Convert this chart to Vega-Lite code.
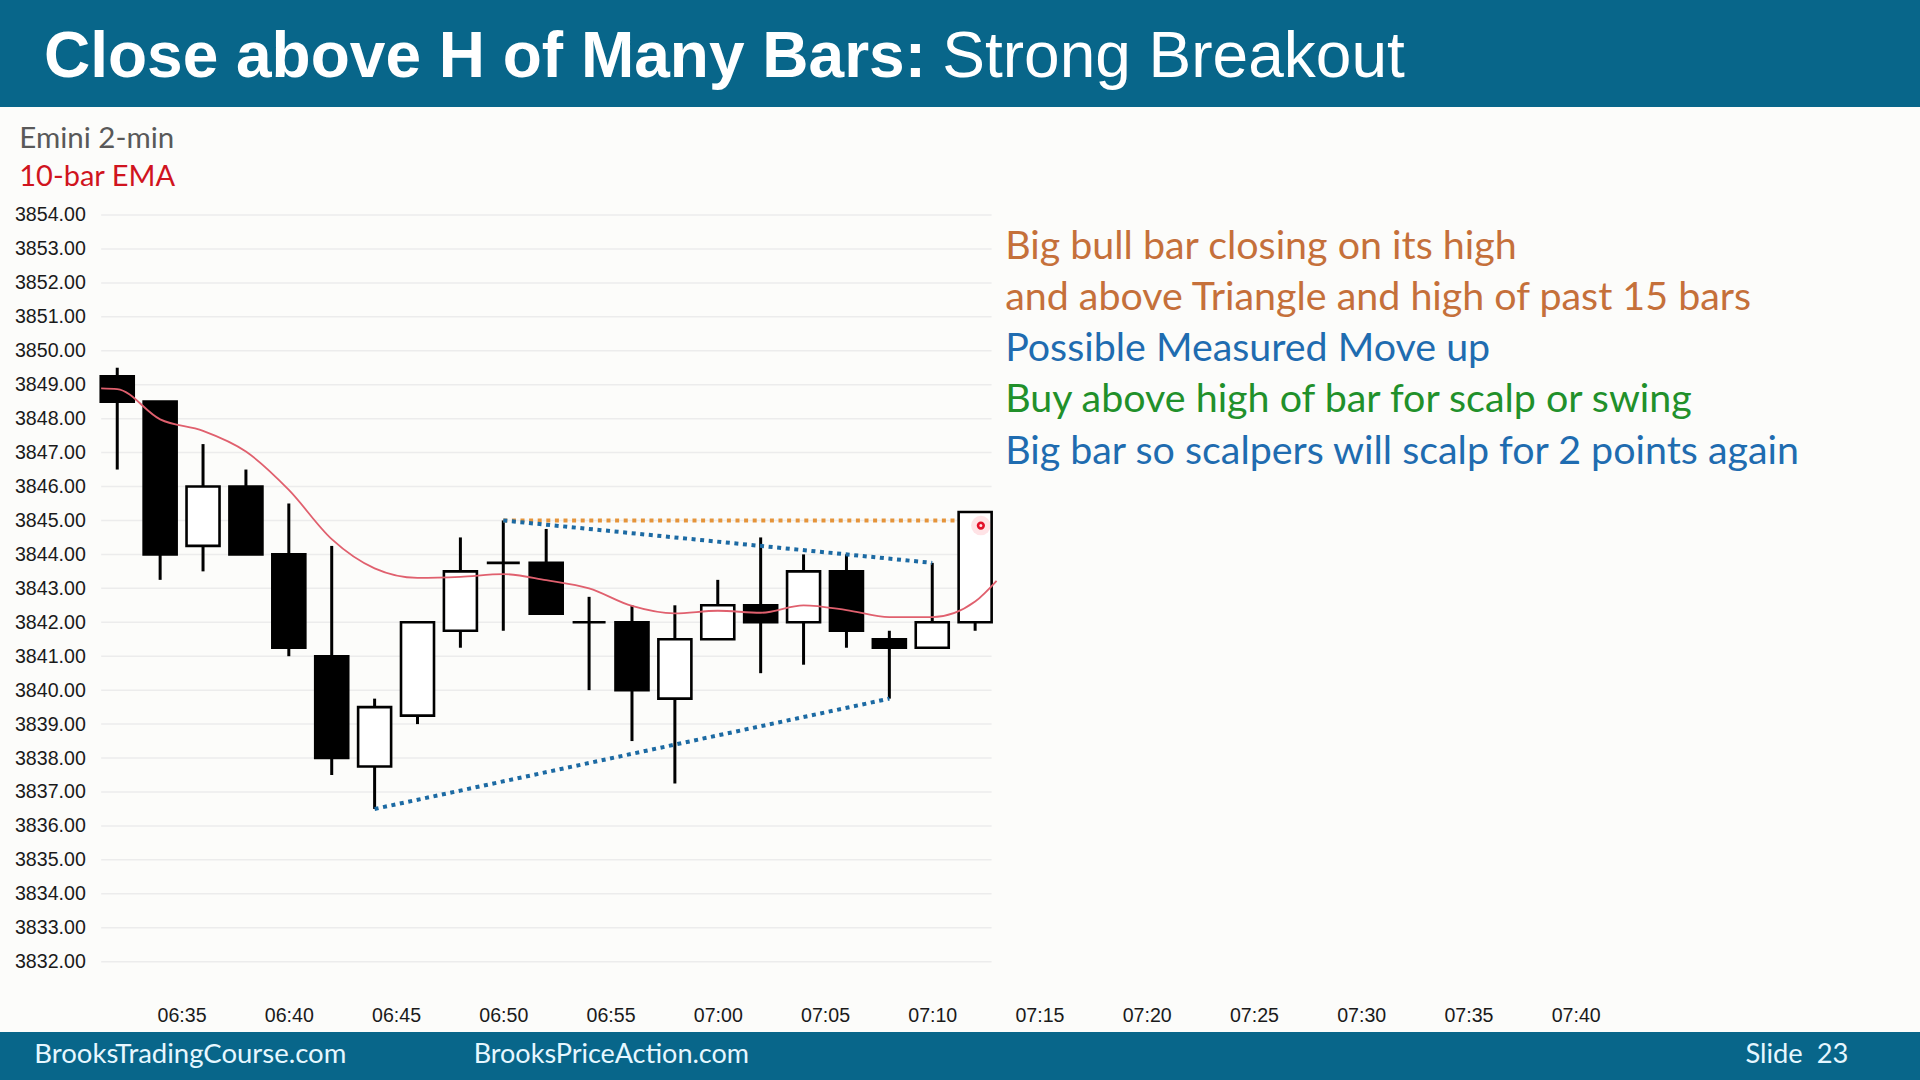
{
  "$schema": "https://vega.github.io/schema/vega-lite/v6.json",
  "width": 1920,
  "height": 925,
  "autosize": {"type": "none"},
  "padding": {"left": 0, "right": 0, "top": 107, "bottom": 48},
  "background": "#08668a",
  "view": {"fill": "#fcfcfa", "stroke": null},
  "config": {"font": "Lato"},
  "resolve": {"axis": {"x": "independent", "y": "independent"}},
  "datasets": {
    "candles": [
      {"t": "2023-01-03T06:32:00", "open": 3849.25, "high": 3849.5, "low": 3846.5, "close": 3848.5},
      {"t": "2023-01-03T06:34:00", "open": 3848.5, "high": 3848.5, "low": 3843.25, "close": 3844},
      {"t": "2023-01-03T06:36:00", "open": 3844.25, "high": 3847.25, "low": 3843.5, "close": 3846},
      {"t": "2023-01-03T06:38:00", "open": 3846, "high": 3846.5, "low": 3844, "close": 3844},
      {"t": "2023-01-03T06:40:00", "open": 3844, "high": 3845.5, "low": 3841, "close": 3841.25},
      {"t": "2023-01-03T06:42:00", "open": 3841, "high": 3844.25, "low": 3837.5, "close": 3838},
      {"t": "2023-01-03T06:44:00", "open": 3837.75, "high": 3839.75, "low": 3836.5, "close": 3839.5},
      {"t": "2023-01-03T06:46:00", "open": 3839.25, "high": 3842, "low": 3839, "close": 3842},
      {"t": "2023-01-03T06:48:00", "open": 3841.75, "high": 3844.5, "low": 3841.25, "close": 3843.5},
      {"t": "2023-01-03T06:50:00", "open": 3843.75, "high": 3845, "low": 3841.75, "close": 3843.75},
      {"t": "2023-01-03T06:52:00", "open": 3843.75, "high": 3844.75, "low": 3842.25, "close": 3842.25},
      {"t": "2023-01-03T06:54:00", "open": 3842, "high": 3842.75, "low": 3840, "close": 3842},
      {"t": "2023-01-03T06:56:00", "open": 3842, "high": 3842.5, "low": 3838.5, "close": 3840},
      {"t": "2023-01-03T06:58:00", "open": 3839.75, "high": 3842.5, "low": 3837.25, "close": 3841.5},
      {"t": "2023-01-03T07:00:00", "open": 3841.5, "high": 3843.25, "low": 3841.5, "close": 3842.5},
      {"t": "2023-01-03T07:02:00", "open": 3842.5, "high": 3844.5, "low": 3840.5, "close": 3842},
      {"t": "2023-01-03T07:04:00", "open": 3842, "high": 3844, "low": 3840.75, "close": 3843.5},
      {"t": "2023-01-03T07:06:00", "open": 3843.5, "high": 3844, "low": 3841.25, "close": 3841.75},
      {"t": "2023-01-03T07:08:00", "open": 3841.5, "high": 3841.75, "low": 3839.75, "close": 3841.25},
      {"t": "2023-01-03T07:10:00", "open": 3841.25, "high": 3843.75, "low": 3841.25, "close": 3842},
      {"t": "2023-01-03T07:12:00", "open": 3842, "high": 3845.25, "low": 3841.75, "close": 3845.25}
    ],
    "ema": [
      {"t": "2023-01-03T06:31:15", "ema": 3848.89},
      {"t": "2023-01-03T06:32:00", "ema": 3848.87},
      {"t": "2023-01-03T06:34:00", "ema": 3847.98},
      {"t": "2023-01-03T06:36:00", "ema": 3847.64},
      {"t": "2023-01-03T06:38:00", "ema": 3847.03},
      {"t": "2023-01-03T06:40:00", "ema": 3845.9},
      {"t": "2023-01-03T06:42:00", "ema": 3844.45},
      {"t": "2023-01-03T06:44:00", "ema": 3843.59},
      {"t": "2023-01-03T06:46:00", "ema": 3843.31},
      {"t": "2023-01-03T06:48:00", "ema": 3843.34},
      {"t": "2023-01-03T06:50:00", "ema": 3843.42},
      {"t": "2023-01-03T06:52:00", "ema": 3843.24},
      {"t": "2023-01-03T06:54:00", "ema": 3843.0},
      {"t": "2023-01-03T06:56:00", "ema": 3842.48},
      {"t": "2023-01-03T06:58:00", "ema": 3842.26},
      {"t": "2023-01-03T07:00:00", "ema": 3842.34},
      {"t": "2023-01-03T07:02:00", "ema": 3842.28},
      {"t": "2023-01-03T07:04:00", "ema": 3842.5},
      {"t": "2023-01-03T07:06:00", "ema": 3842.36},
      {"t": "2023-01-03T07:08:00", "ema": 3842.15},
      {"t": "2023-01-03T07:10:00", "ema": 3842.15},
      {"t": "2023-01-03T07:12:00", "ema": 3842.61},
      {"t": "2023-01-03T07:13:00", "ema": 3843.22}
    ],
    "levels": [
      {"level": 3832}, {"level": 3833}, {"level": 3834}, {"level": 3835}, {"level": 3836},
      {"level": 3837}, {"level": 3838}, {"level": 3839}, {"level": 3840}, {"level": 3841},
      {"level": 3842}, {"level": 3843}, {"level": 3844}, {"level": 3845}, {"level": 3846},
      {"level": 3847}, {"level": 3848}, {"level": 3849}, {"level": 3850}, {"level": 3851},
      {"level": 3852}, {"level": 3853}, {"level": 3854}
    ],
    "trendlines": [
      {"kind": "resistance", "t1": "2023-01-03T06:50:00", "p1": 3845, "t2": "2023-01-03T07:11:13", "p2": 3845},
      {"kind": "upper", "t1": "2023-01-03T06:50:00", "p1": 3845, "t2": "2023-01-03T07:10:00", "p2": 3843.75},
      {"kind": "lower", "t1": "2023-01-03T06:44:00", "p1": 3836.5, "t2": "2023-01-03T07:08:00", "p2": 3839.75}
    ],
    "pointer": [
      {"t": "2023-01-03T07:12:16", "p": 3844.85}
    ],
    "notes": [
      {"note": "Big bull bar closing on its high", "tone": "setup", "at": 3852.718},
      {"note": "and above Triangle and high of past 15 bars", "tone": "setup", "at": 3851.207},
      {"note": "Possible Measured Move up", "tone": "target", "at": 3849.695},
      {"note": "Buy above high of bar for scalp or swing", "tone": "trade", "at": 3848.184},
      {"note": "Big bar so scalpers will scalp for 2 points again", "tone": "scalp", "at": 3846.672}
    ]
  },
  "layer": [
    {
      "data": {"name": "levels"},
      "mark": {"type": "rule", "stroke": "#ececec", "strokeWidth": 1.5},
      "encoding": {
        "y": {"field": "level", "type": "quantitative", "scale": {"domain": [3829.928, 3857.182], "nice": false, "zero": false}, "axis": null},
        "x": {"datum": {"year": 2023, "month": 1, "date": 3, "hours": 6, "minutes": 31, "seconds": 15}, "type": "temporal", "scale": {"domain": [{"year": 2023, "month": 1, "date": 3, "hours": 6, "minutes": 26, "seconds": 46}, {"year": 2023, "month": 1, "date": 3, "hours": 7, "minutes": 55, "seconds": 49, "milliseconds": 300}], "nice": false}, "axis": null},
        "x2": {"datum": {"year": 2023, "month": 1, "date": 3, "hours": 7, "minutes": 12, "seconds": 46}}
      }
    },
    {
      "data": {"name": "candles"},
      "mark": {"type": "rule", "strokeWidth": 3, "color": "#000000"},
      "encoding": {
        "x": {"field": "t", "type": "temporal", "scale": {"domain": [{"year": 2023, "month": 1, "date": 3, "hours": 6, "minutes": 26, "seconds": 46}, {"year": 2023, "month": 1, "date": 3, "hours": 7, "minutes": 55, "seconds": 49, "milliseconds": 300}], "nice": false}, "axis": null},
        "y": {"field": "low", "type": "quantitative", "scale": {"domain": [3829.928, 3857.182], "nice": false, "zero": false}, "axis": null},
        "y2": {"field": "high"}
      }
    },
    {
      "data": {"name": "candles"},
      "mark": {"type": "bar", "size": 33, "stroke": "#000000", "strokeWidth": 2.6},
      "encoding": {
        "x": {
          "field": "t", "type": "temporal",
          "scale": {"domain": [{"year": 2023, "month": 1, "date": 3, "hours": 6, "minutes": 26, "seconds": 46}, {"year": 2023, "month": 1, "date": 3, "hours": 7, "minutes": 55, "seconds": 49, "milliseconds": 300}], "nice": false},
          "axis": {
            "orient": "bottom", "offset": -25.5, "title": null, "grid": false, "domain": false, "ticks": false,
            "labelPadding": 0, "labelBaseline": "top", "format": "%H:%M",
            "values": [
              {"year": 2023, "month": 1, "date": 3, "hours": 6, "minutes": 35},
              {"year": 2023, "month": 1, "date": 3, "hours": 6, "minutes": 40},
              {"year": 2023, "month": 1, "date": 3, "hours": 6, "minutes": 45},
              {"year": 2023, "month": 1, "date": 3, "hours": 6, "minutes": 50},
              {"year": 2023, "month": 1, "date": 3, "hours": 6, "minutes": 55},
              {"year": 2023, "month": 1, "date": 3, "hours": 7, "minutes": 0},
              {"year": 2023, "month": 1, "date": 3, "hours": 7, "minutes": 5},
              {"year": 2023, "month": 1, "date": 3, "hours": 7, "minutes": 10},
              {"year": 2023, "month": 1, "date": 3, "hours": 7, "minutes": 15},
              {"year": 2023, "month": 1, "date": 3, "hours": 7, "minutes": 20},
              {"year": 2023, "month": 1, "date": 3, "hours": 7, "minutes": 25},
              {"year": 2023, "month": 1, "date": 3, "hours": 7, "minutes": 30},
              {"year": 2023, "month": 1, "date": 3, "hours": 7, "minutes": 35},
              {"year": 2023, "month": 1, "date": 3, "hours": 7, "minutes": 40}
            ],
            "labelFont": "Liberation Sans", "labelFontSize": 19.6, "labelColor": "#1a1a1a"
          }
        },
        "y": {
          "field": "open", "type": "quantitative",
          "scale": {"domain": [3829.928, 3857.182], "nice": false, "zero": false},
          "axis": {
            "orient": "left",
            "values": [3832, 3833, 3834, 3835, 3836, 3837, 3838, 3839, 3840, 3841, 3842, 3843, 3844, 3845, 3846, 3847, 3848, 3849, 3850, 3851, 3852, 3853, 3854],
            "format": ".2f", "offset": -97, "labelPadding": 11.7, "title": null, "grid": false, "domain": false, "ticks": false,
            "labelFont": "Liberation Sans", "labelFontSize": 19.6, "labelColor": "#1a1a1a"
          }
        },
        "y2": {"field": "close"},
        "fill": {"condition": {"test": "datum.close > datum.open", "value": "#ffffff"}, "value": "#000000"}
      }
    },
    {
      "data": {"name": "ema"},
      "mark": {"type": "line", "color": "#e0606e", "strokeWidth": 1.8, "interpolate": "monotone"},
      "encoding": {
        "x": {"field": "t", "type": "temporal", "scale": {"domain": [{"year": 2023, "month": 1, "date": 3, "hours": 6, "minutes": 26, "seconds": 46}, {"year": 2023, "month": 1, "date": 3, "hours": 7, "minutes": 55, "seconds": 49, "milliseconds": 300}], "nice": false}, "axis": null},
        "y": {"field": "ema", "type": "quantitative", "scale": {"domain": [3829.928, 3857.182], "nice": false, "zero": false}, "axis": null}
      }
    },
    {
      "data": {"name": "trendlines"},
      "mark": {"type": "rule", "strokeWidth": 4, "strokeDash": [4, 4.6], "strokeCap": "butt"},
      "encoding": {
        "x": {"field": "t1", "type": "temporal", "scale": {"domain": [{"year": 2023, "month": 1, "date": 3, "hours": 6, "minutes": 26, "seconds": 46}, {"year": 2023, "month": 1, "date": 3, "hours": 7, "minutes": 55, "seconds": 49, "milliseconds": 300}], "nice": false}, "axis": null},
        "y": {"field": "p1", "type": "quantitative", "scale": {"domain": [3829.928, 3857.182], "nice": false, "zero": false}, "axis": null},
        "x2": {"field": "t2"},
        "y2": {"field": "p2"},
        "stroke": {"field": "kind", "type": "nominal", "scale": {"domain": ["resistance", "upper", "lower"], "range": ["#e5943a", "#1c6aa3", "#1c6aa3"]}, "legend": null}
      }
    },
    {
      "data": {"name": "pointer"},
      "mark": {"type": "point", "filled": true, "fill": "#ff2a3c", "opacity": 0.13, "size": 380, "strokeWidth": 0},
      "encoding": {
        "x": {"field": "t", "type": "temporal", "scale": {"domain": [{"year": 2023, "month": 1, "date": 3, "hours": 6, "minutes": 26, "seconds": 46}, {"year": 2023, "month": 1, "date": 3, "hours": 7, "minutes": 55, "seconds": 49, "milliseconds": 300}], "nice": false}, "axis": null},
        "y": {"field": "p", "type": "quantitative", "scale": {"domain": [3829.928, 3857.182], "nice": false, "zero": false}, "axis": null}
      }
    },
    {
      "data": {"name": "pointer"},
      "mark": {"type": "point", "filled": false, "stroke": "#e3102a", "strokeWidth": 2.6, "size": 32, "opacity": 1},
      "encoding": {
        "x": {"field": "t", "type": "temporal", "scale": {"domain": [{"year": 2023, "month": 1, "date": 3, "hours": 6, "minutes": 26, "seconds": 46}, {"year": 2023, "month": 1, "date": 3, "hours": 7, "minutes": 55, "seconds": 49, "milliseconds": 300}], "nice": false}, "axis": null},
        "y": {"field": "p", "type": "quantitative", "scale": {"domain": [3829.928, 3857.182], "nice": false, "zero": false}, "axis": null}
      }
    },
    {
      "data": {"name": "notes"},
      "mark": {"type": "text", "align": "left", "baseline": "alphabetic", "font": "Lato", "fontSize": 39.4},
      "encoding": {
        "x": {"datum": {"year": 2023, "month": 1, "date": 3, "hours": 7, "minutes": 13, "seconds": 24}, "type": "temporal", "scale": {"domain": [{"year": 2023, "month": 1, "date": 3, "hours": 6, "minutes": 26, "seconds": 46}, {"year": 2023, "month": 1, "date": 3, "hours": 7, "minutes": 55, "seconds": 49, "milliseconds": 300}], "nice": false}, "axis": null},
        "y": {"field": "at", "type": "quantitative", "scale": {"domain": [3829.928, 3857.182], "nice": false, "zero": false}, "axis": null},
        "text": {"field": "note"},
        "color": {"field": "tone", "type": "nominal", "scale": {"domain": ["setup", "target", "trade", "scalp"], "range": ["#c5703a", "#1f6cb0", "#21902a", "#1f6cb0"]}, "legend": null}
      }
    },
    {
      "data": {"values": [{"label": "Close above H of Many Bars:"}]},
      "mark": {"type": "text", "align": "left", "baseline": "alphabetic", "font": "Liberation Sans", "fontSize": 64, "fontWeight": "bold", "color": "#ffffff"},
      "encoding": {
        "x": {"datum": {"year": 2023, "month": 1, "date": 3, "hours": 6, "minutes": 28, "seconds": 35}, "type": "temporal", "scale": {"domain": [{"year": 2023, "month": 1, "date": 3, "hours": 6, "minutes": 26, "seconds": 46}, {"year": 2023, "month": 1, "date": 3, "hours": 7, "minutes": 55, "seconds": 49, "milliseconds": 300}], "nice": false}, "axis": null},
        "y": {"datum": 3858.066, "type": "quantitative", "scale": {"domain": [3829.928, 3857.182], "nice": false, "zero": false}, "axis": null},
        "text": {"field": "label"}
      }
    },
    {
      "data": {"values": [{"label": "Strong Breakout"}]},
      "mark": {"type": "text", "align": "left", "baseline": "alphabetic", "font": "Liberation Sans", "fontSize": 64, "fontWeight": "normal", "color": "#ffffff"},
      "encoding": {
        "x": {"datum": {"year": 2023, "month": 1, "date": 3, "hours": 7, "minutes": 10, "seconds": 28}, "type": "temporal", "scale": {"domain": [{"year": 2023, "month": 1, "date": 3, "hours": 6, "minutes": 26, "seconds": 46}, {"year": 2023, "month": 1, "date": 3, "hours": 7, "minutes": 55, "seconds": 49, "milliseconds": 300}], "nice": false}, "axis": null},
        "y": {"datum": 3858.066, "type": "quantitative", "scale": {"domain": [3829.928, 3857.182], "nice": false, "zero": false}, "axis": null},
        "text": {"field": "label"}
      }
    },
    {
      "data": {"values": [{"label": "Emini 2-min"}]},
      "mark": {"type": "text", "align": "left", "baseline": "alphabetic", "font": "Lato", "fontSize": 29.5, "color": "#595959"},
      "encoding": {
        "x": {"datum": {"year": 2023, "month": 1, "date": 3, "hours": 6, "minutes": 27, "seconds": 26}, "type": "temporal", "scale": {"domain": [{"year": 2023, "month": 1, "date": 3, "hours": 6, "minutes": 26, "seconds": 46}, {"year": 2023, "month": 1, "date": 3, "hours": 7, "minutes": 55, "seconds": 49, "milliseconds": 300}], "nice": false}, "axis": null},
        "y": {"datum": 3855.965, "type": "quantitative", "scale": {"domain": [3829.928, 3857.182], "nice": false, "zero": false}, "axis": null},
        "text": {"field": "label"}
      }
    },
    {
      "data": {"values": [{"label": "10-bar EMA"}]},
      "mark": {"type": "text", "align": "left", "baseline": "alphabetic", "font": "Lato", "fontSize": 29, "color": "#d0141e"},
      "encoding": {
        "x": {"datum": {"year": 2023, "month": 1, "date": 3, "hours": 6, "minutes": 27, "seconds": 26}, "type": "temporal", "scale": {"domain": [{"year": 2023, "month": 1, "date": 3, "hours": 6, "minutes": 26, "seconds": 46}, {"year": 2023, "month": 1, "date": 3, "hours": 7, "minutes": 55, "seconds": 49, "milliseconds": 300}], "nice": false}, "axis": null},
        "y": {"datum": 3854.84, "type": "quantitative", "scale": {"domain": [3829.928, 3857.182], "nice": false, "zero": false}, "axis": null},
        "text": {"field": "label"}
      }
    },
    {
      "data": {"values": [{"label": "BrooksTradingCourse.com"}]},
      "mark": {"type": "text", "align": "left", "baseline": "alphabetic", "font": "Lato", "fontSize": 27.5, "color": "#e6f7ff"},
      "encoding": {
        "x": {"datum": {"year": 2023, "month": 1, "date": 3, "hours": 6, "minutes": 28, "seconds": 8}, "type": "temporal", "scale": {"domain": [{"year": 2023, "month": 1, "date": 3, "hours": 6, "minutes": 26, "seconds": 46}, {"year": 2023, "month": 1, "date": 3, "hours": 7, "minutes": 55, "seconds": 49, "milliseconds": 300}], "nice": false}, "axis": null},
        "y": {"datum": 3829.006, "type": "quantitative", "scale": {"domain": [3829.928, 3857.182], "nice": false, "zero": false}, "axis": null},
        "text": {"field": "label"}
      }
    },
    {
      "data": {"values": [{"label": "BrooksPriceAction.com"}]},
      "mark": {"type": "text", "align": "left", "baseline": "alphabetic", "font": "Lato", "fontSize": 27, "color": "#e6f7ff"},
      "encoding": {
        "x": {"datum": {"year": 2023, "month": 1, "date": 3, "hours": 6, "minutes": 48, "seconds": 37}, "type": "temporal", "scale": {"domain": [{"year": 2023, "month": 1, "date": 3, "hours": 6, "minutes": 26, "seconds": 46}, {"year": 2023, "month": 1, "date": 3, "hours": 7, "minutes": 55, "seconds": 49, "milliseconds": 300}], "nice": false}, "axis": null},
        "y": {"datum": 3829.006, "type": "quantitative", "scale": {"domain": [3829.928, 3857.182], "nice": false, "zero": false}, "axis": null},
        "text": {"field": "label"}
      }
    },
    {
      "data": {"values": [{"label": "Slide\u00a0\u00a023"}]},
      "mark": {"type": "text", "align": "right", "baseline": "alphabetic", "font": "Lato", "fontSize": 27.3, "color": "#e6f7ff"},
      "encoding": {
        "x": {"datum": {"year": 2023, "month": 1, "date": 3, "hours": 7, "minutes": 52, "seconds": 43}, "type": "temporal", "scale": {"domain": [{"year": 2023, "month": 1, "date": 3, "hours": 6, "minutes": 26, "seconds": 46}, {"year": 2023, "month": 1, "date": 3, "hours": 7, "minutes": 55, "seconds": 49, "milliseconds": 300}], "nice": false}, "axis": null},
        "y": {"datum": 3829.006, "type": "quantitative", "scale": {"domain": [3829.928, 3857.182], "nice": false, "zero": false}, "axis": null},
        "text": {"field": "label"}
      }
    }
  ]
}
